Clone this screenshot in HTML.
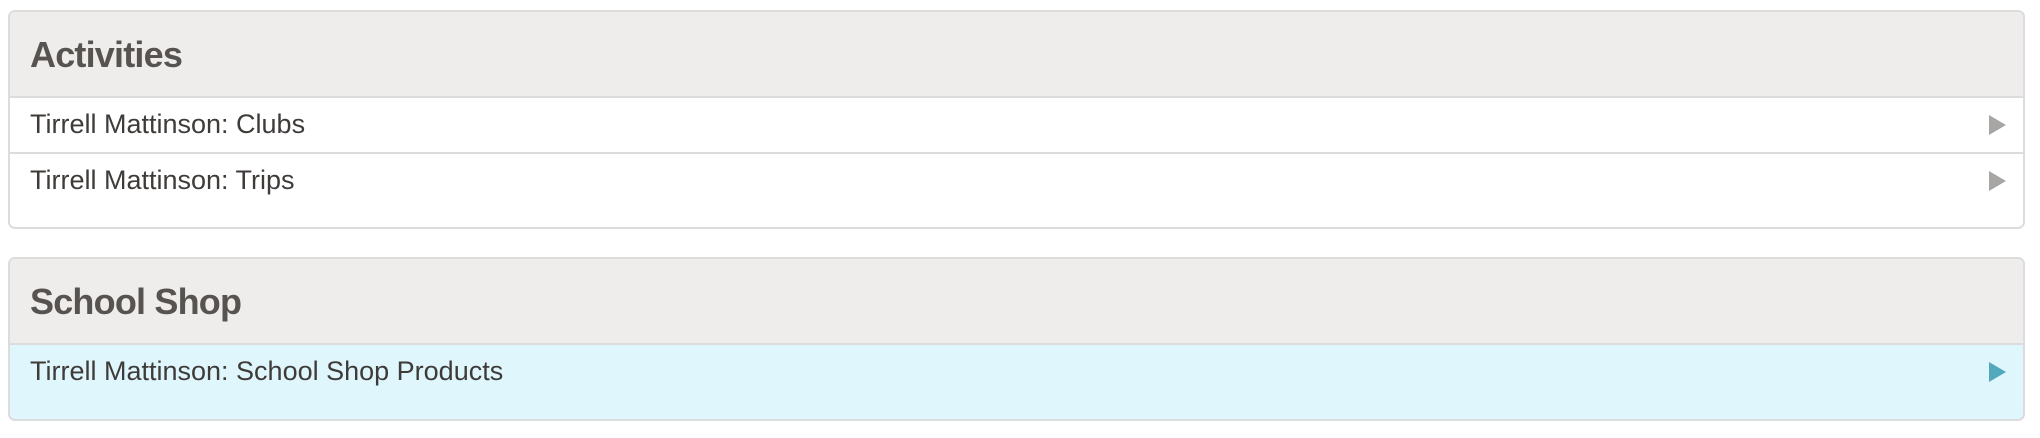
<!DOCTYPE html>
<html><head><style>
body{margin:0;width:2040px;height:438px;background:#fff;position:relative;font-family:"Liberation Sans",sans-serif;overflow:hidden}
.p{position:absolute;left:8px;width:2017px;border:2px solid #dcdcdc;border-radius:7px;overflow:hidden;box-sizing:border-box}
.h{position:absolute;left:0;right:0;top:0;background:#eeedeb;border-bottom:2px solid #dcdcdc;box-sizing:border-box}
.t{position:absolute;left:20px;white-space:nowrap;color:#575350}
.ht{font-weight:bold;font-size:36px;letter-spacing:-0.8px}
.rt{font-size:27px;color:#3e3b39}
.line{position:absolute;left:0;right:0;height:2px;background:#dcdcdc}
.a{position:absolute;left:1979px;width:0;height:0;border-top:10px solid transparent;border-bottom:10px solid transparent;border-left:17px solid #a8a6a4}
</style></head><body>
<div class="p" style="top:10px;height:219px">
 <div class="h" style="height:86px"><div class="t ht" style="top:22px">Activities</div></div>
 <div class="t rt" style="top:97px">Tirrell Mattinson: Clubs</div>
 <div class="line" style="top:140px"></div>
 <div class="t rt" style="top:153px">Tirrell Mattinson: Trips</div>
 <div class="a" style="top:103px"></div>
 <div class="a" style="top:159px"></div>
</div>
<div class="p" style="top:257px;height:164px;background:#dff6fc">
 <div class="h" style="height:86px"><div class="t ht" style="top:22px">School Shop</div></div>
 <div class="t rt" style="top:97px">Tirrell Mattinson: School Shop Products</div>
 <div class="a" style="top:103px;border-left-color:#52a8bd"></div>
</div>
</body></html>
